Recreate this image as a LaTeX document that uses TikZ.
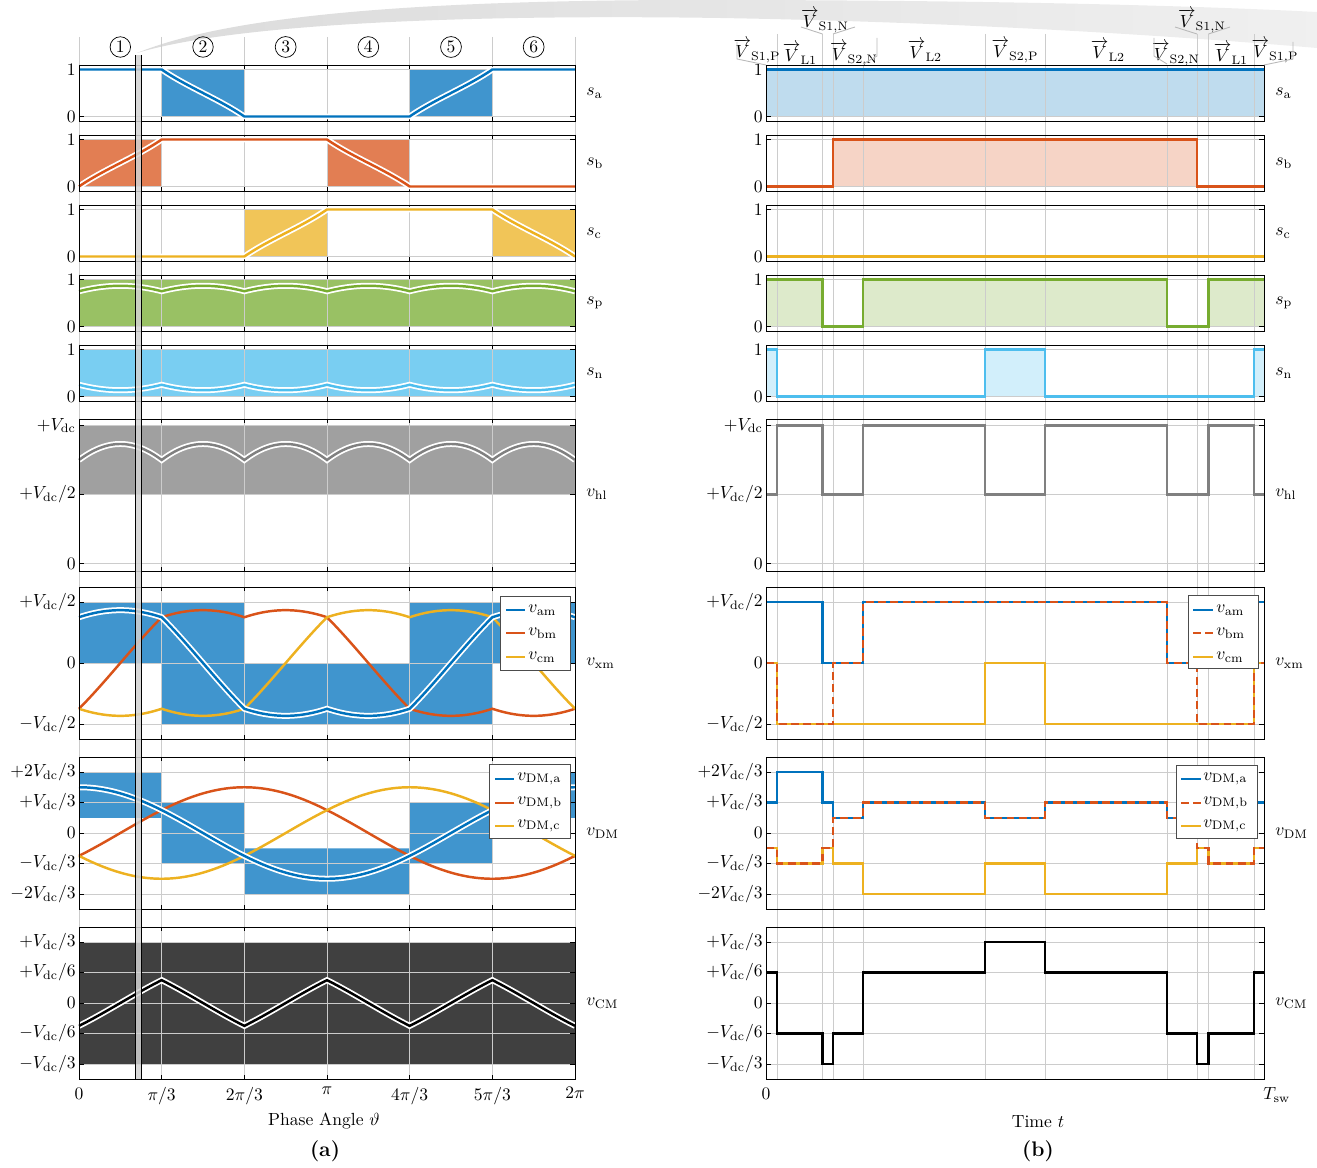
\documentclass[tikz,border=0pt]{standalone}
\usepackage{amsmath}
\usepackage{xcolor}
\usetikzlibrary{positioning,calc}

\definecolor{phA}{HTML}{0072BD}
\definecolor{phB}{HTML}{D95319}
\definecolor{phC}{HTML}{EDB120}
\definecolor{railP}{HTML}{77AC30}
\definecolor{railN}{HTML}{4DBEEE}
\definecolor{link}{HTML}{808080}

\tikzset{
  frm/.style={draw=black, line width=0.5pt},
  gridln/.style={draw=gray!40, line width=0.5pt},
  sig/.style={line width=1.4pt},
  outl/.style={preaction={draw=white, line width=3.4pt}, line width=1.4pt},
  tlab/.style={anchor=east, inner sep=0pt},
  rlab/.style={anchor=west, inner sep=0pt},
  num/.style={draw, circle, inner sep=1.2pt, line width=0.4pt},
  vlab/.style={inner sep=0pt},
  call/.style={draw=gray!55, line width=0.5pt},
  legbox/.style={draw=black!70, fill=white, line width=0.5pt},
  declare function={
    ua(\t)=0.5*cos(\t);
    ub(\t)=0.5*cos(\t-120);
    uc(\t)=0.5*cos(\t+120);
    hi(\t)=max(ua(\t),ub(\t),uc(\t));
    lo(\t)=min(ua(\t),ub(\t),uc(\t));
    ucm(\t)=-(hi(\t)+lo(\t))/2;
    uhl(\t)=hi(\t)-lo(\t);
    swa(\t)=(ua(\t)-lo(\t))/uhl(\t);
    swb(\t)=(ub(\t)-lo(\t))/uhl(\t);
    swc(\t)=(uc(\t)-lo(\t))/uhl(\t);
    px(\t)=79+\t*1.377778;
  }
}

% grid, ticks and tick labels of one column
\newcommand{\drawaxes}[2]{%
  \foreach \yy/\lab [count=\i] in {69.5/1,116.5/0,139.5/1,186.5/0,209.5/1,256.5/0,
      279.5/1,326.5/0,349.5/1,396.5/0,
      425.5/{$+V_\mathrm{dc}$},494.5/{$+V_\mathrm{dc}/2$},563.5/0,
      602/{$+V_\mathrm{dc}/2$},663/0,724/{$-V_\mathrm{dc}/2$},
      772/{$+2V_\mathrm{dc}/3$},802.5/{$+V_\mathrm{dc}/3$},833/0,
      863.5/{$-V_\mathrm{dc}/3$},894/{$-2V_\mathrm{dc}/3$},
      942/{$+V_\mathrm{dc}/3$},972.5/{$+V_\mathrm{dc}/6$},1003/0,
      1033.5/{$-V_\mathrm{dc}/6$},1064/{$-V_\mathrm{dc}/3$}}{
    \draw[gridln] (#1,\yy) -- (#2,\yy);
    \draw[line width=0.5pt] (#1,\yy) -- ++(5,0) (#2,\yy) -- ++(-5,0);
    \node[tlab] (tk#1-\i) at (#1-3,\yy) {\lab};
  }
}
% frames and row names of one column
\newcommand{\drawframes}[2]{%
  \foreach \ft/\fb in {65/121,135/191,205/261,275/331,345/401,419/571,587/739,757/909,927/1079}
    \draw[frm] (#1,\ft) rectangle (#2,\fb);
  \foreach \yy/\lab [count=\i] in {93/{$s_\mathrm{a}$},163/{$s_\mathrm{b}$},233/{$s_\mathrm{c}$},
      303/{$s_\mathrm{p}$},373/{$s_\mathrm{n}$},494.5/{$v_\mathrm{hl}$},663/{$v_\mathrm{xm}$},
      833/{$v_\mathrm{DM}$},1003/{$v_\mathrm{CM}$}}
    \node[rlab] (rw#1-\i) at (#2+11,\yy) {\lab};
}

\begin{document}
\begin{tikzpicture}[x=0.02cm, y=-0.02cm]
\useasboundingbox (0,0) rectangle (1317,1168);

% zoom swoosh
\shade[left color=gray!28, middle color=gray!40, right color=gray!12]
  (137,53) .. controls (230,15) and (420,0) .. (700,0)
  .. controls (1000,0) and (1200,6) .. (1317,12) -- (1317,48)
  .. controls (1150,34) and (950,22) .. (720,18)
  .. controls (450,14) and (230,25) .. (137,53) -- cycle;

% (a) fills
\fill[phA!75] ({px(60)},69.5) rectangle ({px(120)},116.5) ({px(240)},69.5) rectangle ({px(300)},116.5);
\fill[phB!75] (79,139.5) rectangle ({px(60)},186.5) ({px(180)},139.5) rectangle ({px(240)},186.5);
\fill[phC!75] ({px(120)},209.5) rectangle ({px(180)},256.5) ({px(300)},209.5) rectangle (575,256.5);
\fill[railP!75] (79,279.5) rectangle (575,326.5);
\fill[railN!75] (79,349.5) rectangle (575,396.5);
\fill[link!75] (79,425.5) rectangle (575,494.5);
\fill[phA!75] (79,602) rectangle ({px(60)},663) ({px(60)},602) rectangle ({px(120)},724)
  ({px(120)},663) rectangle ({px(240)},724) ({px(240)},602) rectangle ({px(300)},724)
  ({px(300)},602) rectangle (575,663);
\fill[phA!75] (79,772) rectangle ({px(60)},817.75) ({px(60)},802.5) rectangle ({px(120)},863.5)
  ({px(120)},848.25) rectangle ({px(240)},894) ({px(240)},802.5) rectangle ({px(300)},863.5)
  ({px(300)},772) rectangle (575,817.75);
\fill[black!75] (79,942) rectangle (575,1064);

% (b) fills
\fill[phA!25] (766,69.5) rectangle (1264,116.5);
\fill[phB!25] (833,139.5) rectangle (1197,186.5);
\fill[railP!25] (766,279.5) rectangle (822.5,326.5) (863,279.5) rectangle (1167,326.5)
  (1208.5,279.5) rectangle (1264,326.5);
\fill[railN!25] (766,349.5) rectangle (777,396.5) (985,349.5) rectangle (1045,396.5)
  (1254,349.5) rectangle (1264,396.5);

% grids
\drawaxes{79}{575}
\drawaxes{766}{1264}
\foreach \k in {0,...,6}{
  \draw[gridln] ({79+\k*496/6},37) -- ({79+\k*496/6},1079);
  \foreach \ft/\fb in {65/121,135/191,205/261,275/331,345/401,419/571,587/739,757/909,927/1079}
    \draw[line width=0.5pt] ({79+\k*496/6},\ft) -- ++(0,4) ({79+\k*496/6},\fb) -- ++(0,-4);
}
\foreach \tt in {777,822.5,833,985,1045,1197,1208.5,1254}
  \draw[gridln] (\tt,34) -- (\tt,1079);
\foreach \tt in {863,1167}
  \draw[gridln] (\tt,65) -- (\tt,1079);

% (a) averaged signals
\draw[outl, draw=phA] plot[domain=0:360, samples=181] ({px(\x)},{116.5-47*swa(\x)});
\draw[outl, draw=phB] plot[domain=0:360, samples=181] ({px(\x)},{186.5-47*swb(\x)});
\draw[outl, draw=phC] plot[domain=0:360, samples=181] ({px(\x)},{256.5-47*swc(\x)});
\draw[outl, draw=railP] plot[domain=0:360, samples=181] ({px(\x)},{326.5-47*uhl(\x)});
\draw[outl, draw=railN] plot[domain=0:360, samples=181] ({px(\x)},{396.5-47*(1-uhl(\x))});
\draw[outl, draw=link] plot[domain=0:360, samples=181] ({px(\x)},{563.5-138*uhl(\x)});
\draw[sig, phB] plot[domain=0:360, samples=181] ({px(\x)},{663-122*(ub(\x)+ucm(\x))});
\draw[sig, phC] plot[domain=0:360, samples=181] ({px(\x)},{663-122*(uc(\x)+ucm(\x))});
\draw[outl, draw=phA] plot[domain=0:360, samples=181] ({px(\x)},{663-122*(ua(\x)+ucm(\x))});
\draw[sig, phB] plot[domain=0:360, samples=181] ({px(\x)},{833-91.5*ub(\x)});
\draw[sig, phC] plot[domain=0:360, samples=181] ({px(\x)},{833-91.5*uc(\x)});
\draw[outl, draw=phA] plot[domain=0:360, samples=181] ({px(\x)},{833-91.5*ua(\x)});
\draw[outl, draw=black] plot[domain=0:360, samples=181] ({px(\x)},{1003-183*ucm(\x)});

% (b) switched signals
\draw[sig, phA] (766,69.5) -- (1264,69.5);
\draw[sig, phB] (766,186.5) -| (833,139.5) -| (1197,186.5) -- (1264,186.5);
\draw[sig, phC] (766,256.5) -- (1264,256.5);
\draw[sig, railP] (766,279.5) -| (822.5,326.5) -| (863,279.5) -| (1167,326.5) -| (1208.5,279.5) -- (1264,279.5);
\draw[sig, railN] (766,349.5) -| (777,396.5) -| (985,349.5) -| (1045,396.5) -| (1254,349.5) -- (1264,349.5);
\draw[sig, link] (766,494.5) -| (777,425.5) -| (822.5,494.5) -| (863,425.5) -| (985,494.5)
  -| (1045,425.5) -| (1167,494.5) -| (1208.5,425.5) -| (1254,494.5) -- (1264,494.5);
\draw[sig, phA] (766,602) -| (822.5,663) -| (863,602) -| (1167,663) -| (1208.5,602) -- (1264,602);
\draw[sig, phC] (766,663) -| (777,724) -| (985,663) -| (1045,724) -| (1254,663) -- (1264,663);
\draw[sig, phB, dash pattern=on 4.5pt off 2.5pt] (766,663) -| (777,724) -| (833,663) -| (863,602)
  -| (1167,663) -| (1197,724) -| (1254,663) -- (1264,663);
\draw[sig, phA] (766,802.5) -| (777,772) -| (822.5,802.5) -| (833,817.75) -| (863,802.5)
  -| (985,817.75) -| (1045,802.5) -| (1167,817.75) -| (1197,802.5) -| (1208.5,772)
  -| (1254,802.5) -- (1264,802.5);
\draw[sig, phC] (766,848.25) -| (777,863.5) -| (822.5,848.25) -| (833,863.5) -| (863,894)
  -| (985,863.5) -| (1045,894) -| (1167,863.5) -| (1197,848.25) -| (1208.5,863.5)
  -| (1254,848.25) -- (1264,848.25);
\draw[sig, phB, dash pattern=on 4.5pt off 2.5pt] (766,848.25) -| (777,863.5) -| (822.5,848.25)
  -| (833,817.75) -| (863,802.5) -| (985,817.75) -| (1045,802.5) -| (1167,817.75)
  -| (1197,848.25) -| (1208.5,863.5) -| (1254,848.25) -- (1264,848.25);
\draw[sig, black] (766,972.5) -| (777,1033.5) -| (822.5,1064) -| (833,1033.5) -| (863,972.5)
  -| (985,942) -| (1045,972.5) -| (1167,1033.5) -| (1197,1064) -| (1208.5,1033.5)
  -| (1254,972.5) -- (1264,972.5);

% frames and row names
\drawframes{79}{575}
\drawframes{766}{1264}

% legends
\draw[legbox] (500,596) rectangle (570,670);
\draw[sig, phA] (506,610) -- (525,610);
\draw[sig, phB] (506,633) -- (525,633);
\draw[sig, phC] (506,657) -- (525,657);
\node[rlab] (lam) at (528,610) {$v_\mathrm{am}$};
\node[rlab] (lbm) at (528,633) {$v_\mathrm{bm}$};
\node[rlab] (lcm) at (528,657) {$v_\mathrm{cm}$};
\draw[legbox] (489,764) rectangle (570,838);
\draw[sig, phA] (495,779) -- (514,779);
\draw[sig, phB] (495,803) -- (514,803);
\draw[sig, phC] (495,826) -- (514,826);
\node[rlab] (lda) at (517,779) {$v_\mathrm{DM,a}$};
\node[rlab] (ldb) at (517,803) {$v_\mathrm{DM,b}$};
\node[rlab] (ldc) at (517,826) {$v_\mathrm{DM,c}$};
\draw[legbox] (1188,595) rectangle (1258,668);
\draw[sig, phA] (1193,610) -- (1213,610);
\draw[sig, phB, dash pattern=on 4.5pt off 2.5pt] (1193,633) -- (1214,633);
\draw[sig, phC] (1193,657) -- (1213,657);
\node[rlab] (ram) at (1216,610) {$v_\mathrm{am}$};
\node[rlab] (rbm) at (1216,633) {$v_\mathrm{bm}$};
\node[rlab] (rcm) at (1216,657) {$v_\mathrm{cm}$};
\draw[legbox] (1176,765) rectangle (1257,838);
\draw[sig, phA] (1181,779) -- (1201,779);
\draw[sig, phB, dash pattern=on 4.5pt off 2.5pt] (1181,803) -- (1202,803);
\draw[sig, phC] (1181,826) -- (1201,826);
\node[rlab] (rda) at (1203,779) {$v_\mathrm{DM,a}$};
\node[rlab] (rdb) at (1203,803) {$v_\mathrm{DM,b}$};
\node[rlab] (rdc) at (1203,826) {$v_\mathrm{DM,c}$};

% sector numbers
\foreach \k in {1,...,6}
  \node[num] (sec\k) at ({79+(\k-0.5)*496/6},47) {\k};

% vector labels and call-outs
\node[vlab] (vsp1) at (757,51) {$\overrightarrow{V}_{\mathrm{S1,P}}$};
\node[vlab] (vl1)  at (800,54) {$\overrightarrow{V}_{\mathrm{L1}}$};
\node[vlab] (vsn1) at (825,21) {$\overrightarrow{V}_{\mathrm{S1,N}}$};
\node[vlab] (vsn2) at (854,54) {$\overrightarrow{V}_{\mathrm{S2,N}}$};
\node[vlab] (vl2)  at (925,51) {$\overrightarrow{V}_{\mathrm{L2}}$};
\node[vlab] (vsp2) at (1015,51) {$\overrightarrow{V}_{\mathrm{S2,P}}$};
\node[vlab] (vl2b) at (1108,51) {$\overrightarrow{V}_{\mathrm{L2}}$};
\node[vlab] (vsn2b) at (1176,54) {$\overrightarrow{V}_{\mathrm{S2,N}}$};
\node[vlab] (vsn1b) at (1202,21) {$\overrightarrow{V}_{\mathrm{S1,N}}$};
\node[vlab] (vl1b) at (1231,54) {$\overrightarrow{V}_{\mathrm{L1}}$};
\node[vlab] (vsp1b) at (1275,51) {$\overrightarrow{V}_{\mathrm{S1,P}}$};
\draw[call] (737,42) -- (737,59) -- (766,65);
\draw[call] (1293,42) -- (1293,59) -- (1264,65);
\draw[call] (822.5,34) -- (801,27) (833,34) -- (855,27);
\draw[call] (1197,34) -- (1175,27) (1208.5,34) -- (1230,27);
\draw[call] (877,38) -- (877,56) -- (863,64);
\draw[call] (1154,38) -- (1154,56) -- (1167,64);

% highlighted angle
\fill[gray!35, fill opacity=0.85] (135,55) rectangle (141.5,1079);
\draw[line width=0.5pt] (135,55) -- (135,1079) (141.5,55) -- (141.5,1079);

% axis labels
\foreach \k/\lab in {0/0,1/{$\pi/3$},2/{$2\pi/3$},3/{$\pi$},4/{$4\pi/3$},5/{$5\pi/3$},6/{$2\pi$}}
  \node[anchor=north, inner sep=0pt] (xt\k) at ({79+\k*496/6},1087) {\lab};
\node[anchor=north, inner sep=0pt] (t0) at (766,1087) {0};
\node[anchor=north west, inner sep=0pt] (tsw) at (1263,1087) {$T_\mathrm{sw}$};
\node (xa) at (324,1121) {Phase Angle $\vartheta$};
\node (xb) at (1038,1122) {Time $t$};
\node[font=\large\bfseries] (capa) at (325,1151) {(a)};
\node[font=\large\bfseries] (capb) at (1038,1151) {(b)};
\end{tikzpicture}
\end{document}
